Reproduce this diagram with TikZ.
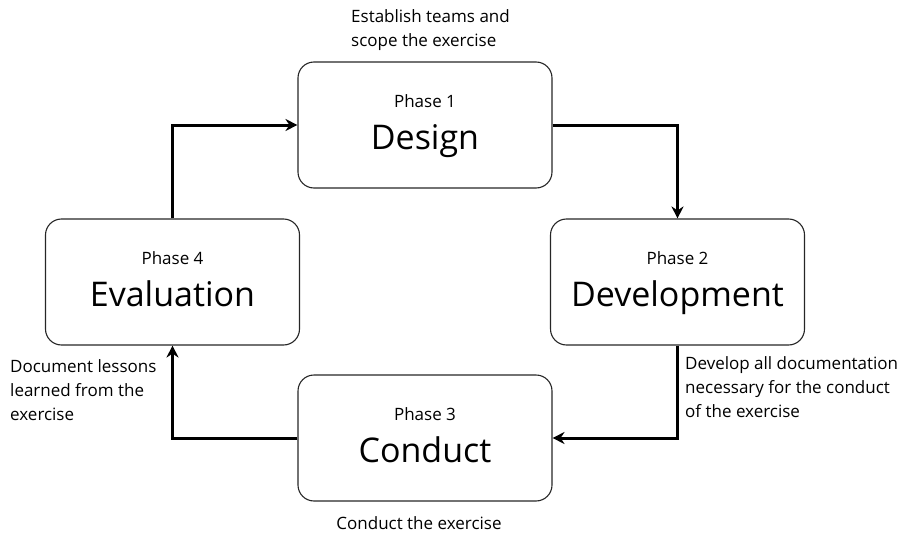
\documentclass[tikz,border=0pt]{standalone}
\usepackage{fontspec}
\setmainfont{Open Sans}
\usetikzlibrary{arrows.meta}
\begin{document}
\begin{tikzpicture}[x=1pt,y=-1pt,
  phasebox/.style={draw=black!85,line width=1.1pt,rounded corners=16pt,minimum width=254pt,minimum height=126pt,inner sep=0pt},
  small/.style={font=\fontsize{17}{24}\selectfont},
  big/.style={font=\fontsize{34}{40}\selectfont},
  flow/.style={line width=3pt,-{Stealth[length=12pt,width=12pt,inset=4pt]}},
  note/.style={small,inner sep=0pt,align=left,anchor=north west}]
\useasboundingbox (0,0) rectangle (906,538);
\node[phasebox] (design) at (425,125) {};
\node[phasebox] (dev) at (677.5,282) {};
\node[phasebox] (eval) at (172.5,282) {};
\node[phasebox] (cond) at (425,438) {};
\foreach \n/\p/\t in {design/1/Design,dev/2/Development,eval/4/Evaluation,cond/3/Conduct}{
  \node[small,anchor=base] (\n-p) at ([yshift=18pt]\n.center) {Phase \p};
  \node[big,anchor=base] (\n-t) at ([yshift=-24pt]\n.center) {\t};
}
\coordinate (c1) at (dev.north |- design.east);
\coordinate (c2) at (dev.south |- cond.east);
\coordinate (c3) at (eval.south |- cond.west);
\coordinate (c4) at (eval.north |- design.west);
\draw[flow] (design.east) -- (c1) -- (dev.north);
\draw[flow] (dev.south) -- (c2) -- (cond.east);
\draw[flow] (cond.west) -- (c3) -- (eval.south);
\draw[flow] (eval.north) -- (c4) -- (design.west);
\node[note] (n1) at (351,9) {Establish teams and\\scope the exercise};
\node[note] (n2) at (685,356) {Develop all documentation\\necessary for the conduct\\of the exercise};
\node[note] (n3) at (10,359) {Document lessons\\learned from the\\exercise};
\node[small,anchor=base] (n4) at (419,529) {Conduct the exercise};
\end{tikzpicture}
\end{document}
